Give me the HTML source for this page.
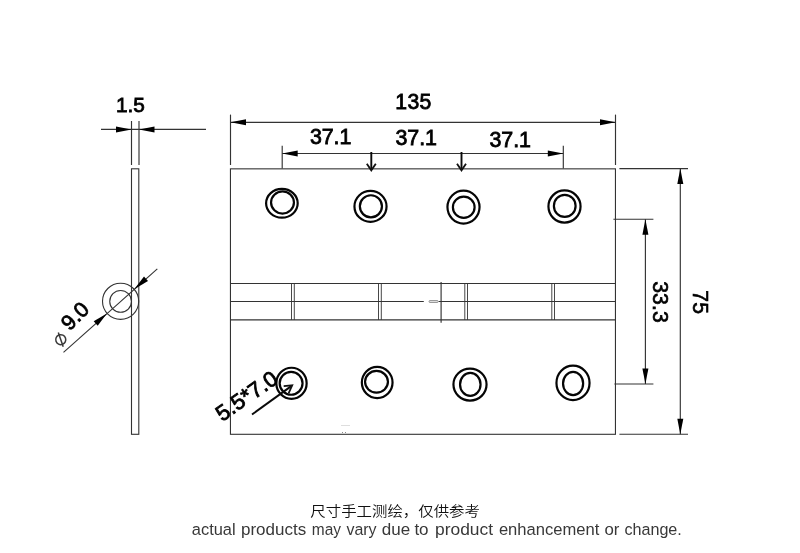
<!DOCTYPE html>
<html lang="zh">
<head>
<meta charset="utf-8">
<title>Hinge dimensions</title>
<style>
html,body{margin:0;padding:0;background:#fff;}
body{width:800px;height:553px;overflow:hidden;position:relative;font-family:"Liberation Sans","Noto Sans CJK SC",sans-serif;}
svg{position:absolute;left:0;top:0;display:block;will-change:transform;}
svg text{font-family:"Liberation Sans","Noto Sans CJK SC",sans-serif;}
svg text.zh{font-family:"Noto Sans CJK SC","Liberation Sans",sans-serif;}
</style>
</head>
<body>
<svg width="800" height="553" viewBox="0 0 800 553">
<line x1="131.5" y1="121" x2="131.5" y2="165" stroke="#333" stroke-width="1.15" />
<line x1="139.0" y1="121" x2="139.0" y2="165" stroke="#333" stroke-width="1.15" />
<line x1="101" y1="129.4" x2="206" y2="129.4" stroke="#333" stroke-width="1.15" />
<polygon points="131.50,129.40 116.00,132.40 116.00,126.40" fill="#000"/>
<polygon points="139.00,129.40 154.50,126.40 154.50,132.40" fill="#000"/>
<rect x="131.5" y="168.8" width="7.3" height="265.5" fill="none" stroke="#333" stroke-width="1.1"/>
<circle cx="120.6" cy="301.3" r="18.1" fill="none" stroke="#333" stroke-width="1.1"/>
<circle cx="120.6" cy="301.4" r="10.85" fill="none" stroke="#333" stroke-width="1.1"/>
<line x1="63.5" y1="352.4" x2="157.3" y2="268.9" stroke="#333" stroke-width="1.15" />
<polygon points="106.90,313.60 97.70,325.82 93.70,321.34" fill="#000"/>
<polygon points="134.20,289.20 144.00,276.45 147.99,280.93" fill="#000"/>
<text x="130.4" y="112.1" font-size="20.8" font-weight="400" text-anchor="middle" fill="#000" stroke="#000" stroke-width="0.8" letter-spacing="0.0" >1.5</text>
<text x="80.2" y="321.0" font-size="21.2" font-weight="400" text-anchor="middle" fill="#000" stroke="#000" stroke-width="0.8" letter-spacing="0.0" transform="rotate(-45.5 80.2 321.0)" >9.0</text>
<text x="0" y="5.4" font-size="22" font-weight="400" text-anchor="middle" fill="#3a3a3a" style="font-family:'DejaVu Sans','Liberation Sans',sans-serif" transform="translate(60.7 339.7) rotate(-64)">&#8960;</text>
<rect x="230.45" y="168.85" width="385" height="265.45" fill="none" stroke="#333" stroke-width="1.1"/>
<line x1="230.5" y1="283.5" x2="615.5" y2="283.5" stroke="#333" stroke-width="1.15" />
<line x1="230.5" y1="319.9" x2="615.5" y2="319.9" stroke="#333" stroke-width="1.15" />
<line x1="230.5" y1="301.5" x2="423.8" y2="301.5" stroke="#333" stroke-width="1.15" />
<line x1="438.5" y1="301.5" x2="615.5" y2="301.5" stroke="#333" stroke-width="1.15" />
<rect x="429" y="300.5" width="9.2" height="2" rx="1" fill="#ddd" stroke="#777" stroke-width="0.7"/>
<line x1="291.5" y1="283.5" x2="291.5" y2="319.9" stroke="#333" stroke-width="0.9" />
<line x1="294.3" y1="283.5" x2="294.3" y2="319.9" stroke="#333" stroke-width="0.9" />
<line x1="378.5" y1="283.5" x2="378.5" y2="319.9" stroke="#333" stroke-width="0.9" />
<line x1="381.3" y1="283.5" x2="381.3" y2="319.9" stroke="#333" stroke-width="0.9" />
<line x1="464.8" y1="283.5" x2="464.8" y2="319.9" stroke="#333" stroke-width="0.9" />
<line x1="467.5" y1="283.5" x2="467.5" y2="319.9" stroke="#333" stroke-width="0.9" />
<line x1="551.8" y1="283.5" x2="551.8" y2="319.9" stroke="#333" stroke-width="0.9" />
<line x1="554.5" y1="283.5" x2="554.5" y2="319.9" stroke="#333" stroke-width="0.9" />
<line x1="441.1" y1="282" x2="441.1" y2="322.7" stroke="#333" stroke-width="1.15" />
<rect x="341" y="425" width="9" height="1" fill="#dedede"/>
<rect x="342" y="432" width="1" height="1" fill="#8a8a8a"/>
<rect x="345" y="432" width="1" height="1" fill="#8a8a8a"/>
<line x1="230.5" y1="114.6" x2="230.5" y2="165" stroke="#333" stroke-width="1.15" />
<line x1="615.5" y1="114.6" x2="615.5" y2="165" stroke="#333" stroke-width="1.15" />
<line x1="230.5" y1="122.3" x2="615.5" y2="122.3" stroke="#333" stroke-width="1.15" />
<polygon points="230.50,122.30 246.00,119.30 246.00,125.30" fill="#000"/>
<polygon points="615.50,122.30 600.00,125.30 600.00,119.30" fill="#000"/>
<text x="413.5" y="109.2" font-size="21.2" font-weight="400" text-anchor="middle" fill="#000" stroke="#000" stroke-width="0.8" letter-spacing="0.3" >135</text>
<line x1="282.2" y1="145.8" x2="282.2" y2="168.6" stroke="#333" stroke-width="1.15" />
<line x1="563.3" y1="145.8" x2="563.3" y2="168.6" stroke="#333" stroke-width="1.15" />
<line x1="282.2" y1="153.5" x2="563.3" y2="153.5" stroke="#333" stroke-width="1.15" />
<polygon points="282.20,153.50 297.70,150.50 297.70,156.50" fill="#000"/>
<polygon points="563.30,153.50 547.80,156.50 547.80,150.50" fill="#000"/>
<line x1="371.3" y1="152" x2="371.3" y2="169.5" stroke="#0a0a0a" stroke-width="1.9" />
<polyline points="366.80,163.70 371.30,170.30 375.80,163.70" fill="none" stroke="#111" stroke-width="1.8"/>
<line x1="461.5" y1="152" x2="461.5" y2="169.5" stroke="#0a0a0a" stroke-width="1.9" />
<polyline points="457.00,163.70 461.50,170.30 466.00,163.70" fill="none" stroke="#111" stroke-width="1.8"/>
<text x="330.6" y="143.8" font-size="21.4" font-weight="400" text-anchor="middle" fill="#000" stroke="#000" stroke-width="0.8" letter-spacing="-0.1" >37.1</text>
<text x="416.2" y="145.0" font-size="21.4" font-weight="400" text-anchor="middle" fill="#000" stroke="#000" stroke-width="0.8" letter-spacing="-0.1" >37.1</text>
<text x="510.2" y="146.5" font-size="21.4" font-weight="400" text-anchor="middle" fill="#000" stroke="#000" stroke-width="0.8" letter-spacing="-0.1" >37.1</text>
<ellipse cx="281.9" cy="203.3" rx="15.799999999999999" ry="14.35" fill="none" stroke="#050505" stroke-width="2.2"/>
<ellipse cx="282.5" cy="202.5" rx="11.45" ry="11.049999999999999" fill="none" stroke="#050505" stroke-width="2.2"/>
<ellipse cx="370.5" cy="206.4" rx="16.05" ry="15.45" fill="none" stroke="#050505" stroke-width="2.2"/>
<ellipse cx="370.9" cy="206.3" rx="11.049999999999999" ry="11.049999999999999" fill="none" stroke="#050505" stroke-width="2.2"/>
<ellipse cx="463.5" cy="207.1" rx="16.05" ry="16.450000000000003" fill="none" stroke="#050505" stroke-width="2.2"/>
<ellipse cx="463.75" cy="207.3" rx="10.85" ry="10.65" fill="none" stroke="#050505" stroke-width="2.2"/>
<ellipse cx="564.5" cy="206.5" rx="16.05" ry="16.05" fill="none" stroke="#050505" stroke-width="2.2"/>
<ellipse cx="564.75" cy="205.9" rx="10.85" ry="11.049999999999999" fill="none" stroke="#050505" stroke-width="2.2"/>
<ellipse cx="291.5" cy="383.3" rx="15.15" ry="15.549999999999999" fill="none" stroke="#050505" stroke-width="2.2"/>
<ellipse cx="291.1" cy="383.3" rx="11.45" ry="11.45" fill="none" stroke="#050505" stroke-width="2.2"/>
<ellipse cx="377.2" cy="382.5" rx="15.35" ry="15.549999999999999" fill="none" stroke="#050505" stroke-width="2.2"/>
<ellipse cx="376.5" cy="381.8" rx="11.45" ry="10.85" fill="none" stroke="#050505" stroke-width="2.2"/>
<ellipse cx="470.0" cy="384.6" rx="16.55" ry="15.950000000000001" fill="none" stroke="#050505" stroke-width="2.2"/>
<ellipse cx="470.3" cy="384.4" rx="10.25" ry="11.549999999999999" fill="none" stroke="#050505" stroke-width="2.2"/>
<ellipse cx="573.0" cy="382.9" rx="16.55" ry="17.25" fill="none" stroke="#050505" stroke-width="2.2"/>
<ellipse cx="573.1" cy="383.5" rx="10.049999999999999" ry="11.65" fill="none" stroke="#050505" stroke-width="2.2"/>
<line x1="252" y1="414.5" x2="291.6" y2="385.9" stroke="#0a0a0a" stroke-width="2.0" />
<polyline points="288.66,393.19 292.20,385.40 283.68,386.18" fill="none" stroke="#111" stroke-width="1.8"/>
<text x="250.9" y="401.9" font-size="21.8" font-weight="400" text-anchor="middle" fill="#000" stroke="#000" stroke-width="0.8" letter-spacing="0.1" transform="rotate(-35 250.9 401.9)" >5.5*7.0</text>
<line x1="619.4" y1="168.6" x2="688" y2="168.6" stroke="#333" stroke-width="1.15" />
<line x1="619.4" y1="434.25" x2="688" y2="434.25" stroke="#333" stroke-width="1.15" />
<line x1="680.3" y1="168.6" x2="680.3" y2="434.2" stroke="#333" stroke-width="1.15" />
<polygon points="680.30,168.60 683.30,184.10 677.30,184.10" fill="#000"/>
<polygon points="680.30,434.20 677.30,418.70 683.30,418.70" fill="#000"/>
<line x1="613.4" y1="219.2" x2="653.4" y2="219.2" stroke="#333" stroke-width="1.15" />
<line x1="614.4" y1="383.95" x2="653.4" y2="383.95" stroke="#333" stroke-width="1.15" />
<line x1="645.4" y1="219.2" x2="645.4" y2="383.9" stroke="#333" stroke-width="1.15" />
<polygon points="645.40,219.20 648.40,234.70 642.40,234.70" fill="#000"/>
<polygon points="645.40,383.90 642.40,368.40 648.40,368.40" fill="#000"/>
<text x="652.65" y="302.0" font-size="21.2" font-weight="400" text-anchor="middle" fill="#000" stroke="#000" stroke-width="0.65" letter-spacing="0.05" transform="rotate(90 652.65 302.0)" >33.3</text>
<text x="692.7" y="302.3" font-size="21.2" font-weight="400" text-anchor="middle" fill="#000" stroke="#000" stroke-width="0.65" letter-spacing="0.2" transform="rotate(90 692.7 302.3)" >75</text>
<text y="535.2" font-size="16.3" fill="#383838" font-weight="400"><tspan x="191.80" textLength="43.80" lengthAdjust="spacingAndGlyphs">actual</tspan> <tspan x="241.00" textLength="65.20" lengthAdjust="spacingAndGlyphs">products</tspan> <tspan x="311.80" textLength="29.20" lengthAdjust="spacingAndGlyphs">may</tspan> <tspan x="346.40" textLength="30.20" lengthAdjust="spacingAndGlyphs">vary</tspan> <tspan x="381.80" textLength="28.40" lengthAdjust="spacingAndGlyphs">due</tspan> <tspan x="414.40" textLength="14.20" lengthAdjust="spacingAndGlyphs">to</tspan> <tspan x="435.00" textLength="58.00" lengthAdjust="spacingAndGlyphs">product</tspan> <tspan x="498.90" textLength="100.45" lengthAdjust="spacingAndGlyphs">enhancement</tspan> <tspan x="604.40" textLength="14.95" lengthAdjust="spacingAndGlyphs">or</tspan> <tspan x="624.40" textLength="57.45" lengthAdjust="spacingAndGlyphs">change.</tspan></text>
<text class="zh" x="310.3" y="515.7" font-size="14.1" font-weight="350" fill="#111" textLength="169.6" lengthAdjust="spacingAndGlyphs">尺寸手工测绘，仅供参考</text>
</svg>
</body>
</html>
